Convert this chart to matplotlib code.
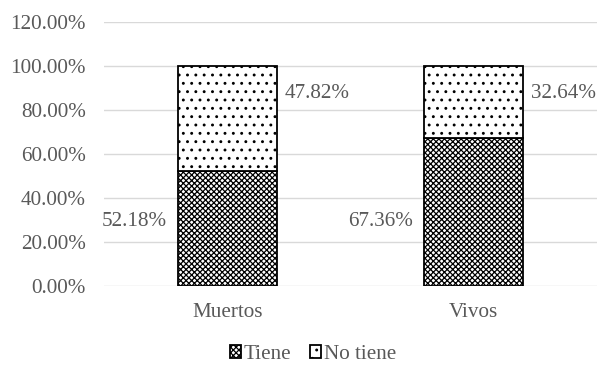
import matplotlib
matplotlib.use("Agg")
import matplotlib.pyplot as plt
import numpy as np
from matplotlib.ticker import FuncFormatter, MultipleLocator

categories = ["Muertos", "Vivos"]
tiene = [52.18, 67.36]
no_tiene = [47.82, 32.64]
series_names = ["Tiene", "No tiene"]

plt.rcParams["font.family"] = ["Liberation Serif", "DejaVu Serif"]
plt.rcParams["hatch.linewidth"] = 0.9
text_color = "#595959"
fs = 15.2

fig = plt.figure(figsize=(5.99, 3.67), dpi=100)
ax = fig.add_axes([0.1736, 0.2207, 0.823, 0.7193])

x = np.arange(len(categories))
t = np.array(tiene) / 100
n = np.array(no_tiene) / 100
width = 0.40

b1 = ax.bar(x, t, width, color="white", edgecolor="black", hatch="xxxxxx",
            linewidth=1.3, label=series_names[0], zorder=3)
b2 = ax.bar(x, n, width, bottom=t, color="white", edgecolor="black", hatch="..",
            linewidth=1.3, label=series_names[1], zorder=3)

ax.set_xlim(-0.5, 1.5)
ax.set_ylim(0, 1.2)
ax.yaxis.set_major_locator(MultipleLocator(0.2))
ax.yaxis.set_major_formatter(FuncFormatter(lambda v, p: f"{v*100:.2f}%"))
ax.set_xticks(x)
ax.set_xticklabels(categories)
ax.grid(axis="y", color="#d9d9d9", linewidth=1.0, zorder=0)
for s in ax.spines.values():
    s.set_visible(False)
ax.tick_params(axis="both", length=0, labelsize=fs, labelcolor=text_color)
ax.tick_params(axis="y", pad=13)
ax.tick_params(axis="x", pad=12)

for i in range(len(categories)):
    ax.annotate(f"{tiene[i]:.2f}%", xy=(x[i] - width / 2, 0.295),
                xytext=(-8, 0), textcoords="offset points",
                ha="right", va="center", fontsize=fs, color=text_color)
    ax.annotate(f"{no_tiene[i]:.2f}%", xy=(x[i] + width / 2, 0.875),
                xytext=(6, 0), textcoords="offset points",
                ha="left", va="center", fontsize=fs, color=text_color)

fig.legend(handles=[b1, b2], labels=series_names, loc="center",
           bbox_to_anchor=(0.522, 0.035), ncol=2, frameon=False,
           fontsize=fs, labelcolor=text_color, handlelength=0.55,
           handleheight=0.55, handletextpad=0.1, columnspacing=0.9)

fig.savefig("out.png", dpi=100)
